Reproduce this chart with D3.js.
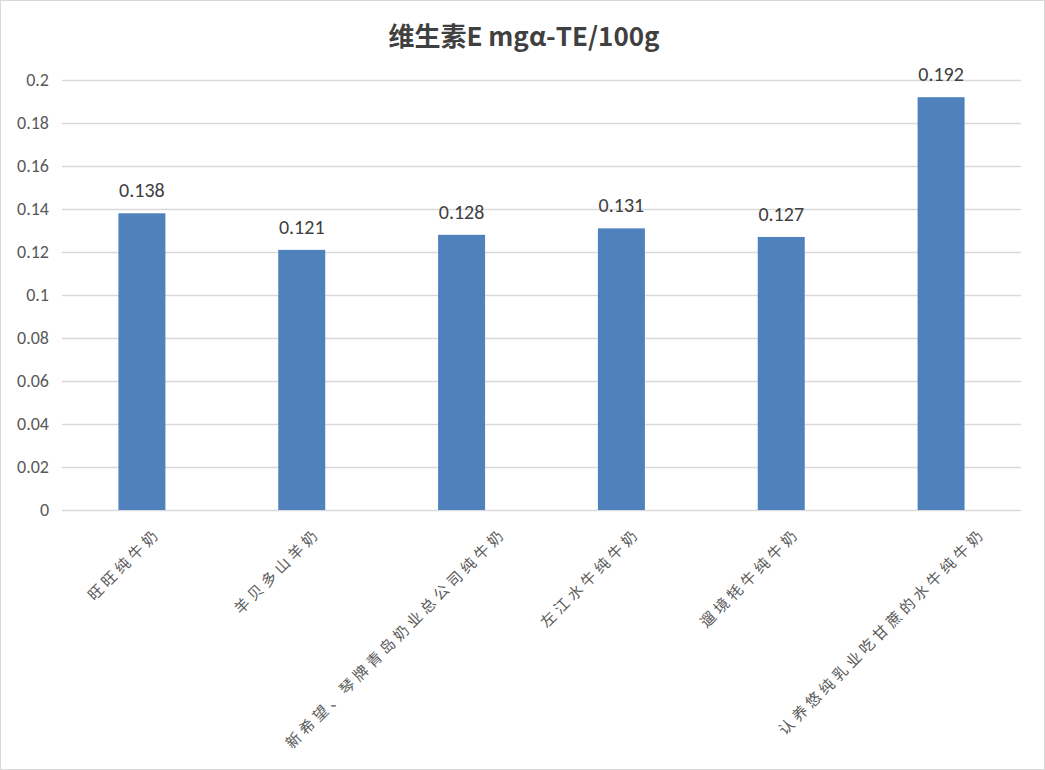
<!DOCTYPE html>
<html><head><meta charset="utf-8">
<script src="https://cdn.jsdelivr.net/npm/d3@7"></script>
<style>body{margin:0;background:#fff}</style>
</head><body>
<svg id="c" width="1045" height="770"></svg>
<script>
const categories = ["旺旺纯牛奶","羊贝多山羊奶","新希望、琴牌青岛奶业总公司纯牛奶","左江水牛纯牛奶","遛境牦牛纯牛奶","认养悠纯乳业吃甘蔗的水牛纯牛奶"];
const values = [0.138,0.121,0.128,0.131,0.127,0.192];
const yTicks = [0,0.02,0.04,0.06,0.08,0.1,0.12,0.14,0.16,0.18,0.2];
const title = "维生素E mgα-TE/100g";

const svg = d3.select("#c");
const W=1045,H=770;
svg.append("rect").attr("x",0.5).attr("y",0.5).attr("width",W-1).attr("height",H-1).attr("fill","#fff").attr("stroke","#D9D9D9");
const m={l:62,r:1021,t:80,b:510};
const x=d3.scaleBand().domain(categories).range([m.l,m.r]).paddingInner(0.706).paddingOuter(0.353);
const y=d3.scaleLinear().domain([0,0.2]).range([m.b,m.t]);

svg.append("text").attr("x",524).attr("y",46).attr("text-anchor","middle")
  .attr("font-family","'Noto Sans CJK SC', 'Open Sans', sans-serif").attr("font-weight","bold")
  .attr("font-size",26).attr("fill","#404040").text(title);

const gy=svg.append("g");
gy.selectAll("line").data(yTicks).join("line")
  .attr("x1",m.l).attr("x2",m.r).attr("y1",d=>Math.round(y(d))+0.5).attr("y2",d=>Math.round(y(d))+0.5)
  .attr("stroke","#D9D9D9").attr("stroke-width",1.3);
gy.selectAll("text").data(yTicks).join("text")
  .attr("x",49).attr("y",d=>y(d)).attr("dy","0.35em").attr("text-anchor","end")
  .attr("font-family","Calibri, Carlito, 'Open Sans', sans-serif").attr("font-size",18).attr("fill","#595959")
  .text(d=>d3.format("~g")(d));

svg.selectAll("rect.bar").data(values).join("rect").attr("class","bar")
  .attr("x",(d,i)=>x(categories[i])).attr("width",x.bandwidth())
  .attr("y",d=>y(d)).attr("height",d=>y(0)-y(d)).attr("fill","#4F81BD");

svg.selectAll("text.val").data(values).join("text").attr("class","val")
  .attr("x",(d,i)=>x(categories[i])+x.bandwidth()/2).attr("y",d=>y(d)-16)
  .attr("text-anchor","middle").attr("font-family","Calibri, Carlito, 'Open Sans', sans-serif")
  .attr("font-size",20).attr("fill","#404040").text(d=>d3.format(".3f")(d));

svg.selectAll("text.xl").data(categories).join("text").attr("class","xl")
  .attr("transform",d=>`translate(${x(d)+x.bandwidth()/2+(d.length>10?38:12)},${527}) rotate(-45)`)
  .attr("text-anchor","end").attr("dy","0.7em")
  .attr("font-family","'Noto Sans CJK SC', sans-serif").attr("font-size",15).attr("letter-spacing","4px")
  .attr("fill","#595959").text(d=>d);
</script>
</body></html>
